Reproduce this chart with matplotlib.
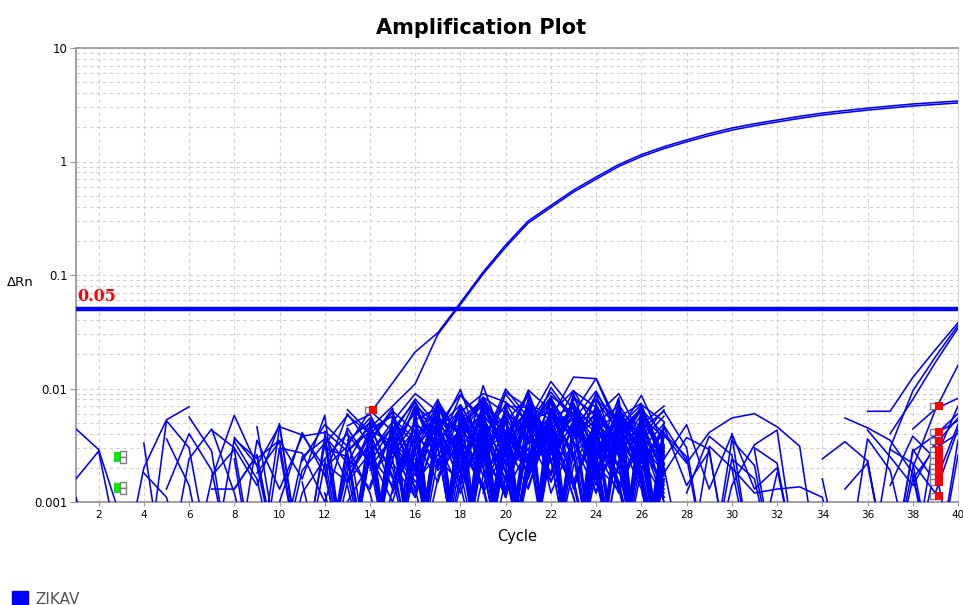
import numpy as np
import matplotlib
matplotlib.use("Agg")
import matplotlib.pyplot as plt

# ---------------- data (ΔRn values in units of 1e-3) ----------------
UNIT = 1e-3
cycles_amp = list(range(14, 41))
amp_a = [6.0, 11.2, 21.0, 31.0, 57.0, 106.0, 184.0, 300.0, 410.0, 560.0, 730.0, 940.0,
         1150.0, 1350.0, 1550.0, 1760.0, 1970.0, 2150.0, 2320.0, 2500.0, 2670.0, 2810.0,
         2950.0, 3080.0, 3210.0, 3310.0, 3410.0]
amp_b = [4.5, 7.0, 11.0, 30.0, 55.0, 102.0, 176.0, 288.0, 394.0, 538.0, 700.0, 905.0,
         1105.0, 1300.0, 1490.0, 1690.0, 1890.0, 2065.0, 2230.0, 2400.0, 2565.0, 2700.0,
         2835.0, 2960.0, 3085.0, 3180.0, 3280.0]

early_noise = [
    (1, [4.4, 2.9, 0.7]), (1, [1.6, 2.8, 0.3]), (1, [1.1, 0.2]),
    (3, [0.2, 2.0, 5.3, 6.9]), (4, [3.3, 0.15]), (4, [1.8, 1.1, 0.2]),
    (4, [0.15, 5.2, 3.0, 0.25]), (5, [1.3, 4.0, 1.9, 0.2]), (5, [3.6, 1.4, 0.15]),
    (6, [0.2, 1.6, 5.8, 2.1, 0.25]), (6, [5.6, 2.8, 0.15]),
    (7, [4.3, 3.0, 1.4, 4.9, 0.2]), (7, [0.25, 3.6, 2.4, 3.5, 1.6, 5.8, 0.2]),
    (7, [1.7, 2.9, 0.2, 4.6, 3.9, 2.0, 0.15]), (8, [3.7, 2.1, 4.7, 0.25, 3.2, 5.8, 4.0]),
    (8, [0.2, 3.5, 1.3, 3.8, 4.1, 0.2, 2.6]), (8, [2.4, 0.15, 3.0, 2.7, 1.0, 4.5, 2.2]),
    (8, [1.3, 2.6, 0.25, 1.9, 3.3, 0.2, 3.4]), (9, [1.8, 3.4, 0.2, 2.2, 1.5, 4.0]),
    (9, [4.6, 0.3, 2.5, 3.6, 0.25, 2.8]), (10, [1.0, 4.1, 1.7, 6.0, 3.2]),
    (10, [2.9, 0.2, 3.8, 2.2, 5.1]), (8, [3.4, 1.6, 0.2, 1.2, 2.4, 0.2]),
    (7, [1.3, 1.3, 2.6, 0.2]), (5, [0.2, 2.4, 4.4, 1.2, 0.2]),
]

mid_noise = [
    (11, [2.3, 4.8, 3.1, 6.4, 4.2, 0.25, 5.6, 3.9, 7.5, 2.2, 0.2, 4.9, 6.2, 1.9, 3.4, 0.25, 2.0]),
    (12, [0.2, 3.3, 5.5, 2.4, 7.1, 4.7, 8.9, 5.2, 3.0, 9.7, 6.4, 2.6, 0.2, 4.3, 1.6, 0.15]),
    (13, [6.5, 4.1, 1.3, 5.0, 3.2, 6.9, 0.2, 6.0, 4.5, 8.2, 3.8, 6.1, 2.9, 0.2]),
    (12, [3.9, 1.5, 2.7, 5.1, 9.0, 6.3, 4.4, 7.8, 2.1, 5.5, 3.2, 0.25, 2.8, 5.3, 4.0, 1.2]),
    (13, [2.0, 3.7, 0.2, 6.6, 2.9, 8.7, 4.9, 1.1, 7.3, 5.8, 2.4, 9.1, 4.6, 1.5, 0.15]),
    (14, [1.4, 4.4, 7.6, 3.5, 5.9, 2.2, 9.3, 6.8, 3.6, 0.2, 5.0, 7.0, 2.3, 4.1]),
    (12, [1.2, 0.2, 4.2, 3.4, 6.1, 0.2, 5.4, 7.9, 4.1, 6.3, 1.7, 8.4, 5.7, 3.5, 6.9, 2.6]),
    (13, [4.7, 5.9, 2.4, 0.2, 4.5, 7.2, 3.3, 9.9, 5.5, 2.9, 7.1, 4.3, 0.25, 3.0, 1.4]),
    (14, [2.6, 1.0, 5.3, 6.7, 3.9, 0.2, 7.6, 5.1, 11.5, 6.5, 3.4, 5.6, 7.4, 1.8]),
    (15, [5.4, 3.6, 8.0, 2.2, 6.4, 4.0, 0.2, 8.6, 6.0, 12.3, 4.7, 2.0, 3.1]),
    (12, [3.0, 2.5, 0.25, 5.7, 1.9, 4.8, 6.0, 2.7, 0.2, 4.6, 7.9, 3.9, 8.8, 2.5, 0.2, 3.8]),
    (13, [0.2, 2.7, 4.6, 1.7, 7.8, 3.7, 5.7, 1.3, 6.8, 3.5, 0.2, 6.6, 3.1, 7.0, 2.1]),
    (14, [3.3, 2.0, 0.25, 5.5, 4.1, 8.3, 2.5, 4.9, 9.3, 5.2, 2.2, 0.2, 4.4, 1.1]),
    (15, [0.25, 6.0, 4.8, 1.8, 10.6, 3.0, 7.0, 5.3, 0.2, 5.8, 9.0, 3.7, 2.4]),
    (16, [2.9, 0.2, 6.1, 3.8, 7.2, 1.6, 5.5, 12.6, 12.2, 4.2, 6.7, 2.4]),
    (13, [1.6, 3.4, 6.3, 4.2, 0.2, 6.2, 9.0, 7.6, 3.3, 5.9, 2.7, 0.2, 5.4, 3.6, 1.0]),
    (14, [4.9, 0.2, 3.6, 5.3, 2.4, 4.4, 0.25, 6.7, 2.8, 8.0, 5.9, 1.4, 3.7, 6.5]),
    (15, [3.1, 7.7, 2.0, 4.6, 8.4, 6.1, 3.3, 4.2, 0.25, 7.3, 2.8, 4.8, 0.2]),
    (12, [2.4, 4.0, 2.2, 0.2, 3.0, 6.4, 0.2, 4.1, 5.7, 2.3, 4.0, 9.5, 6.8, 2.6, 5.0, 0.25]),
    (13, [1.8, 0.2, 4.0, 8.1, 4.7, 0.2, 7.4, 4.8, 1.7, 6.1, 3.8, 5.2, 0.25, 2.9, 4.9]),
    (14, [5.2, 2.8, 1.2, 4.0, 9.8, 2.6, 5.4, 0.2, 3.9, 6.9, 1.9, 4.5, 3.1, 0.2]),
    (15, [1.5, 5.0, 3.0, 0.2, 3.2, 8.9, 5.0, 6.4, 2.5, 0.2, 6.2, 4.6, 1.7]),
    (16, [4.1, 2.2, 6.6, 0.2, 4.3, 2.5, 7.7, 1.3, 5.1, 3.0, 0.2, 5.0]),
    (12, [0.2, 1.5, 4.4, 5.7, 1.3, 7.3, 2.0, 5.9, 3.4, 9.0, 1.2, 3.6, 6.0, 3.8, 1.3, 0.15]),
    (13, [2.8, 4.2, 0.2, 2.9, 5.5, 3.2, 0.25, 7.0, 6.8, 0.2, 4.9, 2.8, 6.2, 2.7, 0.2]),
    (14, [0.2, 3.4, 2.1, 6.0, 0.2, 8.4, 4.0, 2.2, 5.6, 6.9, 2.6, 0.2, 3.5, 5.7]),
    (15, [2.2, 1.1, 7.1, 4.0, 1.4, 5.1, 8.6, 3.3, 0.25, 7.9, 4.2, 6.3, 0.2]),
    (16, [3.8, 5.7, 1.9, 0.2, 6.5, 3.6, 10.2, 5.4, 2.0, 4.1, 8.7, 3.2]),
    (13, [1.0, 2.2, 4.7, 0.2, 3.5, 5.6, 2.1, 0.2, 4.2, 7.6, 3.4, 0.2, 5.5, 2.0, 4.4]),
    (14, [3.5, 6.7, 0.2, 5.1, 2.7, 0.2, 6.0, 4.4, 8.5, 1.5, 5.3, 3.6, 0.2, 2.6]),
    (17, [0.2, 2.9, 5.8, 3.7, 9.4, 2.6, 6.0, 4.1, 0.2, 6.8, 2.2]),
    (15, [2.5, 4.3, 0.2, 3.4, 2.0, 6.6, 0.2, 3.8, 5.4, 1.2, 4.6, 7.2, 5.1]),
    (18, [2.2, 4.6, 1.1, 6.3, 3.6, 0.2, 5.8, 2.0, 4.8, 7.0]),
    (19, [8.0, 3.6, 5.0, 0.2, 4.3, 6.7, 3.0, 4.1, 0.2]),
    (14, [0.2, 5.1, 3.3, 7.2, 0.25, 4.6, 2.3, 6.5, 3.9, 0.2, 3.3, 1.8]),
    (16, [5.9, 0.2, 4.4, 2.6, 5.9, 0.2, 3.4, 5.8, 2.5, 8.3, 0.2]),
    (13, [4.2, 0.25, 2.4, 6.9, 3.1, 0.2, 5.2, 1.5, 3.7, 0.2, 4.6, 2.2]),
    (17, [1.7, 4.3, 0.2, 2.8, 6.2, 3.9, 0.2, 4.9, 2.9, 5.9, 1.0]),
    (12, [0.25, 1.9, 3.1, 0.2, 2.2, 4.0, 1.6, 3.6, 0.2, 2.5, 4.3, 0.2, 3.0]),
    (15, [3.4, 1.3, 0.2, 4.8, 2.9, 3.9, 0.2, 2.8, 6.0, 1.6, 0.2, 4.0]),
    (18, [5.0, 7.0, 3.8, 2.1, 6.2, 4.3, 8.1, 5.0, 3.2, 0.2]),
    (20, [4.9, 2.3, 6.1, 9.6, 4.4, 2.6, 5.2, 0.2]),
    (17, [3.1, 0.2, 5.9, 3.2, 1.9, 5.2, 0.2, 4.1, 6.4, 3.3, 0.25]),
    (21, [6.0, 3.4, 7.5, 2.7, 0.2, 5.6, 3.7]),
    (14, [2.0, 3.8, 0.2, 4.5, 1.8, 3.6, 0.2, 2.6, 5.0, 0.2]),
    (22, [0.2, 5.3, 9.5, 4.0, 6.3, 2.1]),
    (13, [3.5, 5.0, 2.9, 6.6, 0.2, 3.1, 1.3]),
    (19, [1.2, 3.0, 0.2, 4.5, 6.2, 1.4, 3.3, 0.2, 4.7, 2.3]),
    (12, [1.8, 0.2, 2.6, 1.4, 3.9, 0.2, 2.2, 4.6, 1.2, 3.0, 0.2, 5.1, 1.9, 0.2, 2.4, 1.1]),
    (13, [0.2, 4.8, 1.6, 2.9, 0.2, 5.4, 1.3, 3.7, 6.3, 0.2, 2.7, 4.1, 0.2, 3.3, 0.2]),
    (14, [2.7, 0.2, 3.5, 1.5, 6.8, 2.0, 0.2, 4.9, 2.2, 7.4, 1.8, 0.2, 3.9, 2.1]),
    (15, [1.2, 3.9, 0.2, 5.7, 2.4, 1.3, 8.2, 0.2, 3.4, 1.6, 5.6, 0.2, 1.9]),
    (16, [6.8, 2.3, 4.1, 0.2, 2.9, 7.0, 3.8, 0.2, 4.4, 2.0, 0.2, 3.1]),
    (17, [0.2, 6.4, 1.7, 3.3, 9.1, 1.5, 4.8, 2.1, 0.2, 5.3, 1.7]),
    (18, [3.0, 1.4, 0.2, 6.9, 2.3, 5.2, 0.2, 7.2, 3.6, 1.3]),
    (12, [2.0, 3.1, 1.2, 0.2, 4.4, 1.9, 3.2, 0.2, 1.6, 5.2, 2.4, 0.2, 3.9, 1.4, 0.2, 2.2]),
    (13, [1.4, 0.2, 3.0, 2.1, 0.2, 4.1, 5.9, 1.8, 0.2, 3.2, 6.0, 2.1, 1.3, 0.2, 2.8]),
    (14, [4.0, 6.1, 2.0, 0.2, 5.1, 3.0, 1.1, 6.2, 2.4, 0.2, 4.0, 1.5, 0.2, 1.6]),
    (15, [0.2, 2.2, 4.9, 1.4, 0.2, 3.9, 2.6, 5.8, 0.2, 2.9, 1.2, 4.2, 0.2]),
    (16, [1.9, 5.3, 0.2, 4.0, 1.6, 6.3, 0.2, 2.1, 5.0, 1.3, 3.4, 0.2]),
    (17, [4.5, 0.2, 2.6, 1.2, 5.5, 3.6, 0.2, 6.1, 1.5, 0.2, 2.8]),
    (19, [0.2, 4.2, 1.8, 8.6, 0.2, 3.3, 1.4, 4.0, 0.2]),
    (20, [2.7, 0.2, 6.7, 3.4, 1.2, 7.8, 0.2, 2.5]),
    (12, [0.2, 2.3, 0.2, 3.6, 1.5, 2.6, 4.3, 0.2, 3.5, 1.3, 5.8, 0.2, 2.5, 4.6, 0.2, 1.5]),
    (13, [2.5, 1.3, 4.3, 0.2, 2.4, 1.5, 6.6, 3.1, 0.2, 4.9, 1.6, 0.2, 3.8, 1.7, 0.2]),
    (14, [0.2, 3.1, 1.1, 4.6, 0.2, 2.8, 5.5, 0.2, 3.1, 7.0, 0.2, 2.3, 4.2, 0.2]),
    (15, [4.4, 2.0, 0.2, 1.7, 7.4, 0.2, 2.0, 4.3, 1.4, 0.2, 6.2, 2.5, 0.2]),
    (16, [0.2, 1.6, 3.7, 6.1, 0.2, 4.5, 1.8, 9.0, 2.2, 0.2, 1.9, 4.4]),
    (11, [1.5, 0.2, 2.8, 4.6, 1.7, 0.2, 3.4, 1.2, 4.8, 0.2, 2.4]),
    (12, [4.2, 2.8, 0.2, 1.3, 3.1, 5.0, 0.2, 1.7, 3.3]),
    (18, [1.5, 3.7, 0.2, 2.0, 4.5, 1.1, 0.2, 5.7, 1.8, 0.2]),
    (19, [5.6, 1.9, 0.2, 3.0, 1.4, 4.7, 2.1, 0.2, 3.0]),
    (21, [1.4, 4.6, 0.2, 2.6, 5.5, 0.2, 1.6]),
    (22, [3.6, 0.2, 1.8, 6.7, 2.0, 0.2]),
    (17, [2.1, 7.2, 3.1, 0.2, 1.7, 5.1, 0.2, 2.2, 6.6, 1.4, 0.2]),
    (20, [0.2, 3.8, 1.5, 5.1, 0.2, 2.3, 3.6, 0.2]),
    (14, [1.9, 2.7, 5.0, 0.2, 3.6, 1.3, 0.2, 2.4, 4.7, 1.1, 0.2]),
    (16, [2.4, 0.2, 1.4, 4.2, 1.9, 0.2, 3.5, 1.4, 4.5, 0.2]),
]

late_noise = [
    (25, [3.0, 6.6, 3.9, 2.2, 4.1, 5.5, 6.0, 4.6, 3.1, 0.15]),
    (26, [5.5, 2.4, 4.8, 1.3, 3.9, 0.2]),
    (25, [6.0, 3.3, 1.8, 3.7, 2.9, 0.2]),
    (27, [4.0, 2.5, 0.2, 3.5, 2.1, 0.2]),
    (28, [1.2, 3.8, 2.6, 0.25, 1.8]),
    (29, [0.2, 1.4, 3.2, 4.3, 0.2]),
    (30, [2.0, 1.2, 1.3, 1.36, 1.1, 0.2]),
    (30, [4.0, 1.3, 2.0, 0.2]),
    (31, [3.0, 2.2, 0.2]),
    (31, [2.9, 0.2]),
    (26, [4.4, 6.3, 3.0, 0.2, 2.4, 1.6, 0.2]),
    (27, [2.0, 0.2, 3.1, 2.0, 0.2]),
    (26, [2.2, 4.6, 1.4, 2.8, 0.2]),
]

end_noise = [
    (34, [2.4, 3.4, 2.3, 0.2]), (34, [1.6, 0.2]), (35, [5.5, 4.5, 3.5, 1.8, 0.2]),
    (36, [6.3, 6.3, 12.5, 22.0, 38.0]), (36, [0.2, 3.0, 9.5, 19.0, 36.0]),
    (37, [4.0, 8.0, 17.0, 34.0]), (37, [0.2, 2.0, 6.5, 16.0]), (38, [4.4, 6.6, 8.2]),
    (36, [4.3, 2.5, 1.4, 3.2, 5.5]), (35, [1.3, 2.2, 0.2, 2.8, 3.9, 6.0]),
    (36, [2.3, 0.2, 2.9, 1.5, 4.8]), (37, [2.9, 2.2, 0.2, 3.5]), (38, [1.7, 0.2, 2.6]),
    (35, [0.2, 3.6, 1.9, 0.25, 2.0, 0.2]), (37, [1.4, 3.8, 2.4, 7.0]),
    (38, [0.25, 4.0, 5.2]), (38, [2.2, 1.2, 4.4]), (37, [0.2, 1.6, 3.0, 4.0]),
]

threshold = 0.05
threshold_label = "0.05"

# Ct markers
green_ct = [2.9, 2.9]
green_val = [2.5, 1.33]
red_ct = [14.15, 39.15, 39.15, 39.15, 39.15, 39.15, 39.15, 39.15, 39.15, 39.15, 39.15, 39.15]
red_val = [6.5, 7.0, 4.1, 3.45, 2.9, 2.6, 2.3, 2.05, 1.85, 1.65, 1.5, 1.13]

x_ticks = list(range(2, 41, 2))
y_ticks = [0.001, 0.01, 0.1, 1, 10]
y_ticklabels = ["0.001", "0.01", "0.1", "1", "10"]

# ---------------- figure ----------------
BLUE = "#0000ff"
LW = 1.15
fig = plt.figure(figsize=(9.63, 6.05), dpi=100)
ax = fig.add_axes([76 / 963, 1 - 502 / 605, (958 - 76) / 963, (502 - 48) / 605])
ax.set_yscale("log")
ax.set_xlim(1, 40)
ax.set_ylim(0.001, 10)


def draw(group):
    for start, vals in group:
        v = np.array([np.nan if x is None else x for x in vals], dtype=float) * UNIT
        xs = start + np.arange(len(v))
        ax.plot(xs, v, color=BLUE, lw=LW, zorder=3)


for g in (early_noise, mid_noise, late_noise, end_noise):
    draw(g)

ax.plot(cycles_amp, np.array(amp_a) * UNIT, color=BLUE, lw=LW, zorder=3)
ax.plot(cycles_amp, np.array(amp_b) * UNIT, color=BLUE, lw=LW, zorder=3)

# threshold
ax.axhline(threshold, color=BLUE, lw=3.2, zorder=4)
ax.text(1.05, threshold * 1.09, threshold_label, color="red", fontsize=11.5,
        fontweight="bold", family="DejaVu Serif", ha="left", va="bottom", zorder=5)

# Ct markers
gx = np.array(green_ct)
ax.scatter(gx, np.array(green_val) * UNIT, marker="s", s=42, color="#00ee00", zorder=6, linewidths=0)
ax.scatter(gx + 0.2, np.array(green_val) * UNIT * 1.06, marker="s", s=14, facecolor="white",
           edgecolor="#808080", linewidths=1.0, zorder=6)
ax.scatter(gx + 0.2, np.array(green_val) * UNIT * 0.94, marker="s", s=14, facecolor="white",
           edgecolor="#808080", linewidths=1.0, zorder=6)
rx = np.array(red_ct)
ax.scatter(rx - 0.25, np.array(red_val) * UNIT, marker="s", s=20, facecolor="white",
           edgecolor="#808080", linewidths=1.0, zorder=6)
ax.scatter(rx, np.array(red_val) * UNIT, marker="s", s=36, color="#ff0000", zorder=7, linewidths=0)

# grid / ticks
ax.set_xticks(x_ticks)
ax.set_xticklabels([str(t) for t in x_ticks])
ax.set_yticks(y_ticks)
ax.set_yticklabels(y_ticklabels)
ax.grid(True, which="major", color="#cfcfcf", ls=(0, (3, 3)), lw=0.8)
ax.grid(True, which="minor", axis="y", color="#cfcfcf", ls=(0, (3, 3)), lw=0.8)
ax.tick_params(axis="x", which="both", labelsize=7.5, length=3, color="#999999", pad=3)
ax.tick_params(axis="y", which="major", labelsize=8.5, length=4, color="#999999", pad=2)
ax.tick_params(axis="y", which="minor", length=0)
ax.set_axisbelow(True)
for s in ("left", "bottom", "top"):
    ax.spines[s].set_color("#a0a0a0")
    ax.spines[s].set_linewidth(1.4)
ax.spines["right"].set_color("#d8d8d8")
ax.spines["right"].set_linewidth(0.8)

ax.set_xlabel("Cycle", fontsize=10.5, labelpad=6)
fig.text(20 / 963, 1 - 282 / 605, "ΔRn", fontsize=9.5, ha="center", va="center")
fig.text(481 / 963, 1 - 28 / 605, "Amplification Plot", fontsize=15, fontweight="bold",
         ha="center", va="center")

# legend
fig.patches.append(plt.Rectangle((12 / 963, 1 - 606 / 605), 16 / 963, 15 / 605,
                                 transform=fig.transFigure, color=BLUE, figure=fig))
fig.text(35 / 963, 1 - 599 / 605, "ZIKAV", fontsize=11, color="#555555", ha="left", va="center")

fig.savefig("out.png", dpi=100)
